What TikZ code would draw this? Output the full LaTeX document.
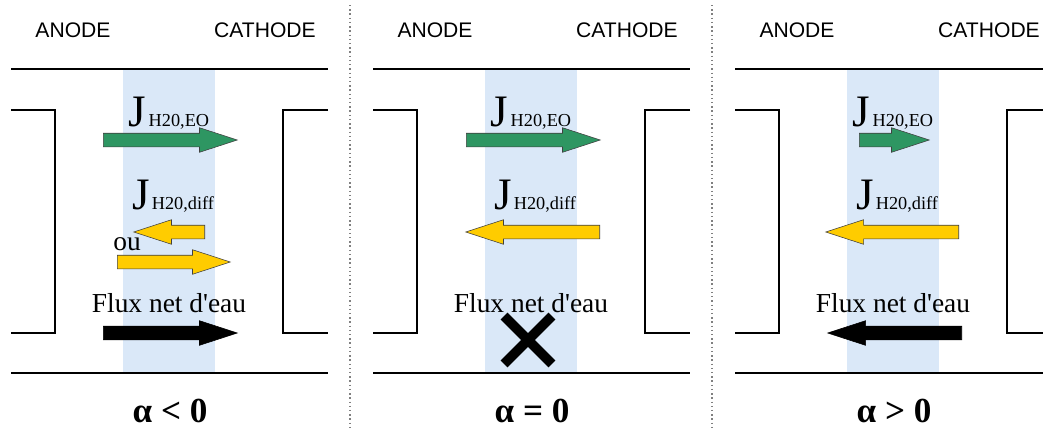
\documentclass[tikz,border=0pt]{standalone}
\usepackage{fontspec}
\setmainfont{Liberation Serif}
\setsansfont{Liberation Sans}
\usepackage{tikz}
\usetikzlibrary{shapes.arrows, shapes.misc}
\definecolor{bandblue}{RGB}{218,232,248}
\definecolor{eogreen}{RGB}{46,150,98}
\definecolor{diffyellow}{RGB}{255,204,0}
\newdimen\px \px=0.025cm

\begin{document}
\begin{tikzpicture}[x=0.025cm, y=-0.025cm,
    flow/.style={single arrow, anchor=tail, inner sep=6.5\px, minimum width=0pt,
      single arrow head extend=5.5\px, single arrow tip angle=36, draw=black!75, line width=.4pt},
    eo/.style={flow, fill=eogreen},
    diff/.style={flow, fill=diffyellow},
    net/.style={flow, fill=black, draw=black},
    side/.style={font=\sffamily\fontsize{15pt}{15pt}\selectfont, anchor=base},
    lbl/.style={font=\fontsize{19.5pt}{19.5pt}\selectfont, anchor=base, inner sep=0pt},
    alpha/.style={font=\bfseries\fontsize{25pt}{25pt}\selectfont, anchor=base, inner sep=0pt}]
    \useasboundingbox (0,0) rectangle (1043,429);

    \foreach \o/\n in {0/1, 362/2, 724/3} {
      \fill [bandblue] (\o+123,69) rectangle (\o+215,373);
      \draw [line width=1pt] (\o+11,69) -- (\o+328,69);
      \draw [line width=1pt] (\o+11,373) -- (\o+328,373);
      \draw [line width=.8pt] (\o+11,110) -| (\o+55,333) -- (\o+11,333);
      \draw [line width=.8pt] (\o+328,110) -| (\o+283,333) -- (\o+328,333);
      \node [side] (anode\n) at (\o+73,37) {ANODE};
      \node [side] (cathode\n) at (\o+265,37) {CATHODE};
      \node [anchor=base, inner sep=0pt] (jeo\n) at (\o+169,126)
        {{\fontsize{32pt}{32pt}\selectfont J}\,{\fontsize{13pt}{13pt}\selectfont H20,EO}};
      \node [anchor=base, inner sep=0pt] (jdiff\n) at (\o+173,209)
        {{\fontsize{32pt}{32pt}\selectfont J}\,{\fontsize{13pt}{13pt}\selectfont H20,diff}};
      \node [lbl] (flux\n) at (\o+169,312) {Flux net d\textquotesingle eau};
    }
    \draw [gray, dotted, line width=1pt] (350,5) -- (350,429);
    \draw [gray, dotted, line width=1pt] (712,5) -- (712,429);

    \node [eo, minimum height=134\px] (eo1) at (103,140) {};
    \node [diff, minimum height=71\px, shape border rotate=180] (diffa1) at (205,232) {};
    \node [lbl] (ou1) at (127,250) {ou};
    \node [diff, minimum height=113\px] (diffb1) at (117,262) {};
    \node [net, minimum height=134\px] (net1) at (103,333) {};
    \node [alpha] (alpha1) at (170,422) {α < 0};

    \node [eo, minimum height=134\px] (eo2) at (466,140) {};
    \node [diff, minimum height=134\px, shape border rotate=180] (diff2) at (600,232) {};
    \node [cross out, draw, line width=7pt, minimum size=38\px, inner sep=0pt] (stop2) at (528,340) {};
    \node [alpha] (alpha2) at (532,422) {α = 0};

    \node [eo, minimum height=70\px] (eo3) at (859,140) {};
    \node [diff, minimum height=133\px, shape border rotate=180] (diff3) at (959,232) {};
    \node [net, minimum height=134\px, shape border rotate=180] (net3) at (962,333) {};
    \node [alpha] (alpha3) at (894,422) {α > 0};
\end{tikzpicture}
\end{document}
